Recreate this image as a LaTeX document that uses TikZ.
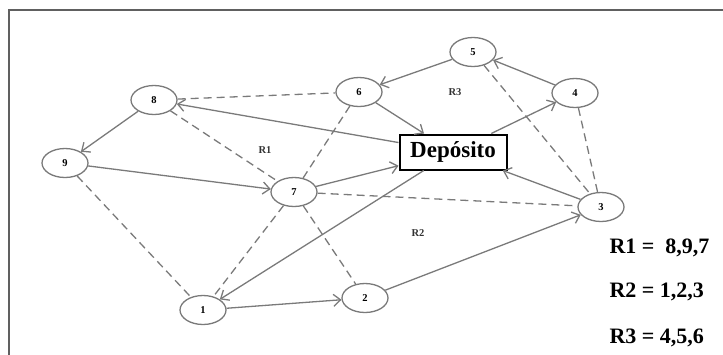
\documentclass[tikz,border=0pt]{standalone}
\usepackage{fontspec}
\setmainfont{Liberation Serif}
\usetikzlibrary{shapes.geometric,arrows.meta}

\definecolor{linegray}{HTML}{7A7A7A}
\definecolor{framegray}{HTML}{606060}

\tikzset{
  stop/.style={ellipse, draw=linegray, line width=1.3pt, minimum width=46pt,
    minimum height=29pt, inner sep=0pt, font=\fontsize{10.5}{10.5}\selectfont\bfseries},
  depot/.style={draw=black, line width=2pt, fill=white, minimum width=107pt,
    minimum height=35pt, inner sep=0pt, font=\fontsize{23}{23}\selectfont\bfseries},
  route/.style={draw=linegray, line width=1.3pt},
  link/.style={draw=linegray, line width=1.3pt, dash pattern=on 8pt off 5pt},
  zone/.style={font=\fontsize{10.5}{10.5}\selectfont\bfseries, text=black!80},
  legend/.style={anchor=west, font=\fontsize{22}{22}\selectfont\bfseries}
}

\begin{document}
\begin{tikzpicture}[x=1pt,y=-1pt,>={Straight Barb[length=7pt,width=12pt]}]

\useasboundingbox (0,0) rectangle (723,354);
\draw[framegray,line width=2.5pt] (9,358) -- (9,10) -- (727,10);

% clientes
\node[stop] (n1) at (203,310) {1};
\node[stop] (n2) at (365,298) {2};
\node[stop] (n3) at (601,207) {3};
\node[stop] (n4) at (575,93) {4};
\node[stop] (n5) at (473,52) {5};
\node[stop] (n6) at (359,92) {6};
\node[stop] (n7) at (294,192) {7};
\node[stop] (n8) at (154,100) {8};
\node[stop] (n9) at (65,163) {9};

% arestas tracejadas
\draw[link] (n8) -- (n6);
\draw[link] (n8) -- (n7);
\draw[link] (n6) -- (n7);
\draw[link] (n9) -- (n1);
\draw[link] (n7) -- (n1);
\draw[link] (n7) -- (n2);
\draw[link] (n7) -- (n3);
\draw[link] (n5) -- (n3);
\draw[link] (n4) -- (n3);

\node[depot] (dep) at (453,152) {Depósito};

% rotas
\draw[route,->] (dep) -- (n8);
\draw[route,->] (n8) -- (n9);
\draw[route,->] (n9) -- (n7);
\draw[route,->] (n7) -- (dep);
\draw[route,->] (dep) -- (n1);
\draw[route,->] (n1) -- (n2);
\draw[route,->] (n2) -- (n3);
\draw[route,->] (n3) -- (dep);
\draw[route,->] (dep) -- (n4);
\draw[route,->] (n4) -- (n5);
\draw[route,->] (n5) -- (n6);
\draw[route,->] (n6) -- (dep);

\node[zone] (r1) at (265,150) {R1};
\node[zone] (r2) at (418,233) {R2};
\node[zone] (r3) at (455,92) {R3};

\node[legend] (leg1) at (606,248) {R1 = \ 8,9,7};
\node[legend] (leg2) at (606,292) {R2 = 1,2,3};
\node[legend] (leg3) at (606,338) {R3 = 4,5,6};

\end{tikzpicture}
\end{document}
